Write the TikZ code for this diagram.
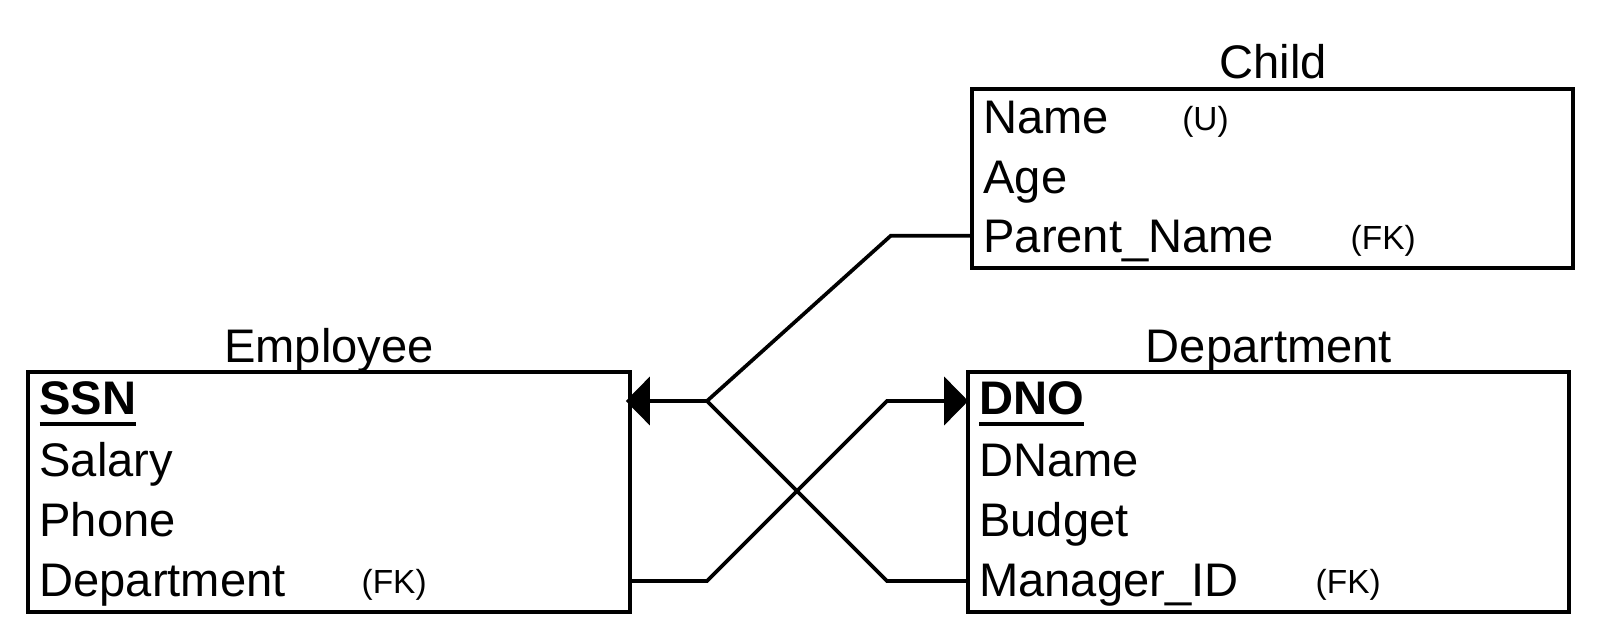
\documentclass[tikz,border=0pt]{standalone}
\usepackage{fontspec}
\setmainfont{Liberation Sans}
\usetikzlibrary{arrows.meta}
\newcommand\keyul[1]{\setbox0\hbox{#1}\rlap{\rule[-3pt]{\wd0}{0.95pt}}\box0}
\begin{document}
\begin{tikzpicture}[x=0.01cm,y=-0.01cm,
  tbl/.style={draw, line width=1.15pt, inner sep=0pt, rectangle},
  row/.style={anchor=base west, inner sep=0pt, font=\fontsize{13.4}{16}\selectfont},
  tag/.style={anchor=base west, inner sep=0pt, font=\fontsize{9.5}{11}\selectfont},
  ttl/.style={anchor=base, inner sep=0pt, font=\fontsize{13.4}{16}\selectfont},
  link/.style={line width=1.05pt},
  tipped/.style={-{Triangle[length=0.24cm,width=0.48cm]}}]
\useasboundingbox (0,0) rectangle (1600,640);
% tables
\node[tbl, minimum width=6.01cm, minimum height=2.398cm] (emp) at (329.1,492.3) {};
\node[tbl, minimum width=6.00cm, minimum height=1.796cm] (child) at (1272.4,178.6) {};
\node[tbl, minimum width=6.00cm, minimum height=2.398cm] (dept) at (1268.4,492.3) {};
% titles
\node[ttl] (empT) at (329,363) {Employee};
\node[ttl] (childT) at (1273,78.6) {Child};
\node[ttl] (deptT) at (1269,363) {Department};
% Employee rows
\node[row] (ssn) at (38.8,415) {\keyul{\textbf{SSN}}};
\node[row] (sal) at (38.8,476.5) {Salary};
\node[row] (pho) at (38.8,536.5) {Phone};
\node[row] (edep) at (38.8,596) {Department};
\node[tag] (edepfk) at (361,593) {(FK)};
% Child rows
\node[row] (cname) at (982.7,133.7) {Name};
\node[tag] (cnameu) at (1181.6,131) {(U)};
\node[row] (cage) at (982.7,193.5) {Age};
\node[row] (cpar) at (982.7,252.5) {Parent\_Name};
\node[tag] (cparfk) at (1350,249.5) {(FK)};
% Department rows
\node[row] (dno) at (978.6,415) {\keyul{\textbf{DNO}}};
\node[row] (dname) at (978.6,476.5) {DName};
\node[row] (dbud) at (978.6,536.5) {Budget};
\node[row] (dman) at (978.6,596) {Manager\_ID};
\node[tag] (dmanfk) at (1315,593) {(FK)};
% connector bends
\coordinate (j1) at (707,401);
\coordinate (j2) at (887,401);
\coordinate (j3) at (707,581);
\coordinate (j4) at (887,581);
\coordinate (j5) at (890.8,235.7);
% connectors
\draw[link,tipped] (child.west |- j5) -- (j5) -- (j1) -- ([xshift=-0.06cm]emp.east |- j1);
\draw[link] (dept.west |- j4) -- (j4) -- (j1);
\draw[link,tipped] (emp.east |- j3) -- (j3) -- (j2) -- ([xshift=0.02cm]dept.west |- j2);
\end{tikzpicture}
\end{document}
